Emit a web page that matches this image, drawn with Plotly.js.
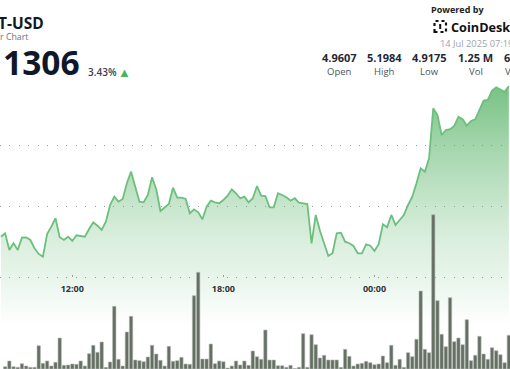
<!DOCTYPE html>
<html>
<head>
<meta charset="utf-8">
<script src="https://cdn.plot.ly/plotly-3.0.1.min.js"></script>
<style>html,body{margin:0;padding:0;background:#fff;}#chart{width:510px;height:369px;}</style>
</head>
<body>
<div id="chart"></div>
<script>
// ---- data ----
const priceStart = '2025-07-13T09:10:00';   // first visible price point
const volumeStart = '2025-07-13T09:20:00';  // first visible volume bar
const stepMinutes = 10;

const prices = [
  4.9513, 4.9569, 4.9295, 4.9405, 4.9295, 4.9497, 4.9503, 4.9459, 4.9323, 4.9230,
  4.9185, 4.9557, 4.9677, 4.9815, 4.9503, 4.9459, 4.9513, 4.9443, 4.9536, 4.9525,
  4.9513, 4.9639, 4.9749, 4.9693, 4.9623, 4.9759, 5.0033, 5.0169, 5.0087, 5.0131,
  5.0389, 5.0579, 5.0333, 5.0087, 5.0077, 5.0197, 5.0487, 5.0290, 4.9934, 4.9989,
  5.0049, 5.0316, 5.0152, 5.0152, 5.0131, 4.9897, 4.9962, 4.9913, 4.9798, 5.0005,
  5.0103, 5.0077, 5.0061, 5.0115, 5.0185, 5.0290, 5.0225, 5.0143, 5.0169, 5.0077,
  5.0143, 5.0344, 5.0185, 5.0180, 4.9995, 4.9995, 5.0225, 5.0197, 5.0159, 5.0103,
  5.0143, 5.0070, 5.0061, 5.0049, 4.9405, 4.9869, 4.9611, 4.9415, 4.9197, 4.9241,
  4.9569, 4.9579, 4.9431, 4.9405, 4.9361, 4.9241, 4.9241, 4.9389, 4.9366, 4.9279,
  4.9389, 4.9716, 4.9667, 4.9869, 4.9705, 4.9787, 4.9869, 5.0033, 5.0169, 5.0389,
  5.0634, 5.0579, 5.0798, 5.1618, 5.1508, 5.1180, 5.1262, 5.1274, 5.1328, 5.1480,
  5.1438, 5.1333, 5.1410, 5.1438, 5.1590, 5.1743, 5.1754, 5.1907, 5.1962, 5.1930,
  5.1890, 5.1984
];

// volume per 10-minute bar (thousands)
const volumes = [
  2.3, 8, 2.3, 1.7, 5.3, 3, 1.7, 1.7, 23.3, 5.7,
  8, 3, 6.7, 31, 3.7, 4, 5, 4.7, 8, 3,
  15.3, 23.7, 16.7, 27, 1.7, 7, 62.7, 9.7, 3, 37,
  52.7, 9, 8.3, 7.3, 12, 23.7, 15, 8.7, 3, 22.7,
  7.7, 8.3, 11.7, 5, 4.7, 73.3, 96.7, 10, 10, 25,
  5.3, 8, 7.3, 1, 3, 8, 4, 8, 3.7, 18,
  12.3, 9.7, 39, 9, 9, 3.3, 3.3, 1.7, 3.7, 0.5,
  1.7, 35.3, 1.7, 34.3, 24.3, 11, 13.7, 9, 9, 9,
  1.7, 19.7, 12.7, 3, 5, 5.7, 7.7, 6.3, 4.3, 5,
  13, 6.3, 23.7, 3.7, 9.7, 1.7, 16.3, 12.3, 29.7, 78,
  19.7, 16.3, 154.3, 68.3, 34.7, 22.3, 71.3, 27.3, 31, 24.3,
  49.3, 8.3, 13.7, 32.7, 15, 9.7, 21.3, 18.3, 14.3, 6.3,
  33.7
];

const tickTimes = ['2025-07-13 12:00', '2025-07-13 18:00', '2025-07-14 00:00'];
const tickLabels = ['12:00', '18:00', '00:00'];
const gridPrices = [4.8852, 5.0, 5.1];

const header = {
  pair: 'T-USD', sub: 'r Chart', price: '1306', change: '3.43%',
  powered: 'Powered by', brand: 'CoinDesk', stamp: '14 Jul 2025 07:19'
};
const statValues = ['4.9607', '5.1984', '4.9175', '1.25 M', '6'];
const statLabels = ['Open', 'High', 'Low', 'Vol', 'V'];

// ---- helpers ----
function timeSeries(start, n) {
  const t0 = new Date(start + 'Z').getTime();
  const out = [];
  for (let i = 0; i < n; i++) {
    const d = new Date(t0 + i * stepMinutes * 60000);
    out.push(d.toISOString().slice(0, 19).replace('T', ' '));
  }
  return out;
}
const priceTimes = timeSeries(priceStart, prices.length);
const volumeTimes = timeSeries(volumeStart, volumes.length);

const W = 510, H = 369;
const px = x => x / W;
const py = y => 1 - y / H;
const FONT = 'Open Sans, Noto Sans, sans-serif';

const traces = [
  {
    x: priceTimes, y: prices, type: 'scatter', mode: 'lines',
    line: {color: '#6cbf7d', width: 1.8},
    fill: 'tozeroy',
    fillgradient: {
      type: 'vertical', start: 4.8066, stop: 5.1984,
      colorscale: [
        [0, 'rgba(90,180,105,0)'],
        [0.105, 'rgba(90,180,105,0.07)'],
        [0.2, 'rgba(90,180,105,0.14)'],
        [0.356, 'rgba(90,180,105,0.22)'],
        [0.494, 'rgba(90,180,105,0.33)'],
        [0.749, 'rgba(90,180,105,0.55)'],
        [1, 'rgba(90,180,105,0.82)']
      ]
    },
    hoverinfo: 'skip', xaxis: 'x', yaxis: 'y'
  },
  {
    x: volumeTimes, y: volumes, type: 'bar',
    marker: {color: '#656f64', line: {color: '#b3bbb2', width: 0.6}},
    hoverinfo: 'skip', xaxis: 'x', yaxis: 'y2'
  }
];

const annotations = [];
function ann(text, x, y, size, color, weight, anchor) {
  annotations.push({
    text: text, xref: 'paper', yref: 'paper', x: px(x), y: py(y),
    xanchor: anchor || 'center', yanchor: 'middle', showarrow: false, borderpad: 0,
    font: {family: FONT, size: size, color: color, weight: weight || 400}
  });
}
ann(header.pair, 44.5, 22.5, 15.5, '#111827', 700, 'right');
ann(header.sub, 28.5, 37.5, 8.8, '#6b7280', 400, 'right');
ann(header.price, 1.5, 62, 33.5, '#0f172a', 700, 'left');
ann(header.change, 87, 72, 10, '#374151', 600, 'left');
ann('▲', 124.5, 72, 13, '#4fb161', 400, 'center');
ann(header.powered, 457, 9.5, 9, '#222222', 700, 'center');
ann(header.brand, 449.5, 26.5, 12.7, '#111111', 700, 'left');
ann(header.stamp, 438.5, 43.5, 9.3, '#9ca3af', 400, 'left');
const statX = [339, 384, 429.5, 475.5, 502.5];
statValues.forEach((v, i) => ann(v, statX[i], 58, 11, '#1f2937', 700, i === 4 ? 'left' : 'center'));
statLabels.forEach((v, i) => ann(v, statX[i] + (i === 4 ? 1 : 0), 71, 9.5, '#4b5563', 400, i === 4 ? 'left' : 'center'));

const shapes = [
  {type: 'rect', xref: 'paper', yref: 'paper', x0: px(434.5), x1: px(446), y0: py(32), y1: py(21),
   line: {color: '#111', width: 2.2, dash: 'dot'}},
  {type: 'line', xref: 'paper', yref: 'paper', x0: px(440.2), x1: px(440.2), y0: py(29), y1: py(24),
   line: {color: '#111', width: 2}}
];

const layout = {
  width: W, height: H,
  margin: {l: 0, r: 0, t: 0, b: 0},
  paper_bgcolor: '#ffffff', plot_bgcolor: '#ffffff',
  showlegend: false, bargap: 0.2,
  xaxis: {
    type: 'date', range: ['2025-07-13 09:07:45', '2025-07-14 05:22:50'],
    anchor: 'free', position: 0.2493,
    showgrid: false, zeroline: false, showline: false,
    ticks: 'inside', ticklen: 2, tickwidth: 1, tickcolor: '#999',
    ticklabelstandoff: 5,
    tickvals: tickTimes, ticktext: tickLabels,
    tickfont: {family: FONT, size: 9, color: '#2d333b', weight: 700},
    fixedrange: true
  },
  yaxis: {
    range: [4.7344, 5.3393], tickvals: gridPrices, showticklabels: false,
    showgrid: true, gridcolor: '#9a9a9a', gridwidth: 1, griddash: '1px,8.45px',
    zeroline: false, showline: false, ticks: '', fixedrange: true
  },
  yaxis2: {overlaying: 'y', range: [0, 369], visible: false, fixedrange: true},
  annotations: annotations,
  shapes: shapes
};

Plotly.newPlot('chart', traces, layout, {staticPlot: true, displayModeBar: false});
</script>
</body>
</html>
